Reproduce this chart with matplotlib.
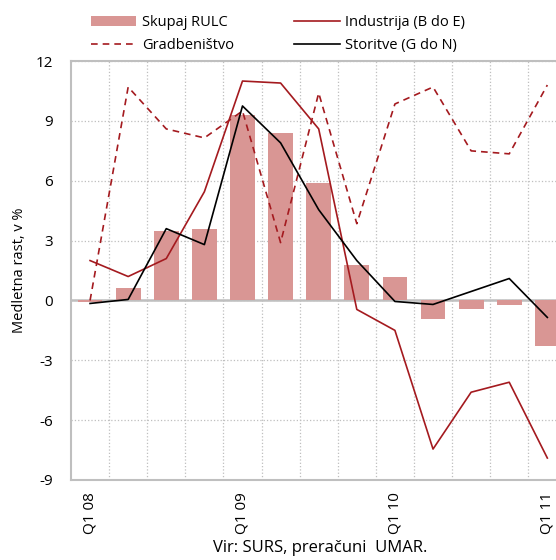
import numpy as np
import matplotlib
matplotlib.use("Agg")
import matplotlib.pyplot as plt

plt.rcParams["font.family"] = ["Open Sans", "DejaVu Sans"]
plt.rcParams["axes.unicode_minus"] = False

quarters = ["Q1 08", "Q2 08", "Q3 08", "Q4 08",
            "Q1 09", "Q2 09", "Q3 09", "Q4 09",
            "Q1 10", "Q2 10", "Q3 10", "Q4 10", "Q1 11"]
tick_labels = ["Q1 08", "", "", "", "Q1 09", "", "", "", "Q1 10", "", "", "", "Q1 11"]

skupaj_rulc = [-0.1, 0.6, 3.5, 3.6, 9.3, 8.4, 5.9, 1.8, 1.2, -0.95, -0.45, -0.25, -2.3]
industrija = [2.0, 1.2, 2.1, 5.45, 11.0, 10.9, 8.6, -0.45, -1.5, -7.45, -4.6, -4.1, -7.9]
gradbenistvo = [0.0, 10.7, 8.6, 8.15, 9.5, 2.9, 10.4, 3.85, 9.85, 10.7, 7.5, 7.35, 10.8]
storitve = [-0.15, 0.05, 3.6, 2.8, 9.75, 7.9, 4.55, 2.0, -0.05, -0.2, 0.45, 1.1, -0.85]

bar_color = "#D99694"
red = "#A41A1F"
grid_color = "#BFBFBF"

fig = plt.figure(figsize=(5.56, 5.6), dpi=100)
# axes run past the right edge, as in the original the last column is cut off
ax = fig.add_axes([0.1277, 0.1429, 0.891, 0.748])

x = np.arange(len(quarters))
ax.bar(x, skupaj_rulc, width=0.65, color=bar_color, label="Skupaj RULC", zorder=2)
ax.plot(x, industrija, color=red, lw=1.2, label="Industrija (B do E)", zorder=3)
ax.plot(x, gradbenistvo, color=red, lw=1.2, ls=(0, (4, 3)), label="Gradbeništvo", zorder=3)
ax.plot(x, storitve, color="black", lw=1.2, label="Storitve (G do N)", zorder=4)

ax.set_xlim(-0.5, len(quarters) - 0.5)
ax.set_ylim(-9, 12)
ax.set_yticks(np.arange(-9, 13, 3))
ax.set_xticks(x)
ax.set_xticklabels(tick_labels, rotation=90)
ax.set_xticks(x[:-1] + 0.5, minor=True)

ax.grid(True, which="minor", axis="x", color=grid_color, ls=":", lw=0.9, zorder=0)
ax.grid(True, which="major", axis="y", color=grid_color, ls=":", lw=0.9, zorder=0)
ax.axhline(0, color=grid_color, lw=1.8, zorder=1)

for side in ["left", "top", "bottom"]:
    ax.spines[side].set_color(grid_color)
    ax.spines[side].set_linewidth(1.5)
ax.spines["right"].set_visible(False)

ax.tick_params(axis="both", which="both", length=0, labelsize=11, colors="black")
ax.tick_params(axis="y", pad=13)
ax.tick_params(axis="x", pad=9)
ax.set_ylabel("Medletna rast, v %", fontsize=10.5, labelpad=6)

handles, labels = ax.get_legend_handles_labels()
order = [3, 1, 0, 2]
handles = [handles[i] for i in order]
labels = [labels[i] for i in order]
fig.legend(handles, labels, ncol=2, loc="upper left", bbox_to_anchor=(0.145, 0.991),
           frameon=False, fontsize=10.5, handlelength=3.1, handletextpad=0.4,
           columnspacing=4.15, labelspacing=0.55, borderaxespad=0.3)

fig.text(0.575, 0.021, "Vir: SURS, preračuni  UMAR.", ha="center", va="center", fontsize=12)

fig.savefig("out.png", dpi=100)
